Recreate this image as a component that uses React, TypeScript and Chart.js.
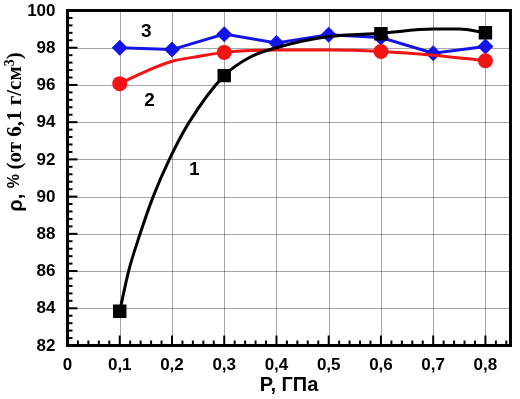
import React, { useEffect, useRef } from "react";
import { Chart, registerables } from "chart.js";

Chart.register(...registerables);

// Measured points
const pressure1 = [0.1, 0.3, 0.6, 0.8];
const density1 = [83.84, 96.5, 98.75, 98.8];
const pressure2 = [0.1, 0.3, 0.6, 0.8];
const density2 = [96.07, 97.75, 97.8, 97.3];
const pressure3 = [0.1, 0.2, 0.3, 0.4, 0.5, 0.6, 0.7, 0.8];
const density3 = [98.0, 97.9, 98.73, 98.25, 98.7, 98.55, 97.7, 98.07];

// Fitted curves
const fit1X = [0.1, 0.117, 0.139, 0.164, 0.195, 0.233, 0.3, 0.35, 0.4, 0.5, 0.6, 0.7, 0.75, 0.8];
const fit1Y = [83.84, 86.0, 88.0, 90.0, 92.0, 94.0, 96.5, 97.5, 98.0, 98.6, 98.78, 99.0, 99.0, 98.8];
const fit2X = [0.1, 0.15, 0.2, 0.25, 0.3, 0.4, 0.5, 0.6, 0.7, 0.8];
const fit2Y = [96.07, 96.73, 97.27, 97.53, 97.75, 97.88, 97.88, 97.8, 97.6, 97.3];

const xTickValues = [0, 0.1, 0.2, 0.3, 0.4, 0.5, 0.6, 0.7, 0.8];
const xTickLabels = ["0", "0,1", "0,2", "0,3", "0,4", "0,5", "0,6", "0,7", "0,8"];
const yTickValues = [82, 84, 86, 88, 90, 92, 94, 96, 98, 100];
const yTickLabels = ["82", "84", "86", "88", "90", "92", "94", "96", "98", "100"];

const curveLabels = ["1", "2", "3"];
const curveLabelX = [0.2426, 0.157, 0.151];
const curveLabelY = [91.46, 95.16, 98.86];

const xTitle = "P, ГПа";

const BLACK = "#000000";
const RED = "#f01414";
const BLUE = "#1414e6";
const SANS = "'Liberation Sans', Arial, sans-serif";
const SERIF = "'Liberation Serif', 'Times New Roman', serif";

const pts = (xs: number[], ys: number[]) => xs.map((x, i) => ({ x, y: ys[i] }));

const decorPlugin = {
  id: "decor",
  beforeDatasetsDraw(chart: any) {
    const { ctx, chartArea: a, scales } = chart;
    const xs = scales.x;
    const ys = scales.y;
    ctx.save();
    ctx.strokeStyle = "rgba(0,0,0,0.7)";
    ctx.lineWidth = 1;
    ctx.setLineDash([1, 1]);
    xTickValues.forEach((v) => {
      if (v === 0) return;
      const px = Math.round(xs.getPixelForValue(v)) + 0.5;
      ctx.beginPath();
      ctx.moveTo(px, a.top);
      ctx.lineTo(px, a.bottom);
      ctx.stroke();
    });
    yTickValues.forEach((v) => {
      if (v === 82 || v === 100) return;
      const py = Math.round(ys.getPixelForValue(v)) + 0.5;
      ctx.beginPath();
      ctx.moveTo(a.left, py);
      ctx.lineTo(a.right, py);
      ctx.stroke();
    });
    ctx.setLineDash([]);
    ctx.strokeStyle = BLACK;
    ctx.lineWidth = 2;
    for (let i = 0; i <= 42; i++) {
      const v = i * 0.02;
      if (v > xs.max) break;
      const px = xs.getPixelForValue(v);
      const len = i % 5 === 0 ? 10 : 5;
      ctx.beginPath();
      ctx.moveTo(px, a.bottom);
      ctx.lineTo(px, a.bottom - len);
      ctx.stroke();
    }
    for (let i = 0; i <= 45; i++) {
      const v = 82 + i * 0.4;
      const py = ys.getPixelForValue(v);
      const len = i % 5 === 0 ? 10 : 5;
      ctx.beginPath();
      ctx.moveTo(a.left, py);
      ctx.lineTo(a.left + len, py);
      ctx.stroke();
    }
    ctx.restore();
  },
  afterDraw(chart: any) {
    const { ctx, chartArea: a, scales } = chart;
    ctx.save();
    ctx.strokeStyle = BLACK;
    ctx.lineWidth = 3;
    ctx.strokeRect(a.left, a.top, a.right - a.left, a.bottom - a.top);
    ctx.fillStyle = BLACK;
    ctx.font = `bold 17px ${SANS}`;
    ctx.textBaseline = "middle";
    ctx.textAlign = "right";
    yTickValues.forEach((v, i) => {
      ctx.fillText(yTickLabels[i], a.left - 12, scales.y.getPixelForValue(v) + 0.5);
    });
    ctx.textAlign = "center";
    xTickValues.forEach((v, i) => {
      ctx.fillText(xTickLabels[i], scales.x.getPixelForValue(v), a.bottom + 20);
    });
    ctx.font = `bold 19px ${SANS}`;
    curveLabels.forEach((t, i) => {
      ctx.fillText(t, scales.x.getPixelForValue(curveLabelX[i]), scales.y.getPixelForValue(curveLabelY[i]));
    });
    ctx.font = `bold 20px ${SANS}`;
    ctx.fillText(xTitle, (a.left + a.right) / 2, 385);
    const parts = [
      { t: "ρ, ", f: `bold 20px ${SANS}`, dy: 0 },
      { t: "% ", f: `bold 16px ${SANS}`, dy: -1 },
      { t: "(от 6,1 г/см", f: `bold 21px ${SERIF}`, dy: 0 },
      { t: "3", f: `bold 14px ${SERIF}`, dy: -6 },
      { t: ")", f: `bold 21px ${SERIF}`, dy: 0 },
    ];
    let total = 0;
    const widths = parts.map((p) => {
      ctx.font = p.f;
      const w = ctx.measureText(p.t).width;
      total += w;
      return w;
    });
    ctx.translate(16, 132);
    ctx.rotate(-Math.PI / 2);
    ctx.textAlign = "left";
    ctx.textBaseline = "middle";
    let cx = -total / 2;
    parts.forEach((p, i) => {
      ctx.font = p.f;
      ctx.fillText(p.t, cx, p.dy);
      cx += widths[i];
    });
    ctx.restore();
  },
};

export default function App() {
  const ref = useRef<HTMLCanvasElement | null>(null);
  useEffect(() => {
    if (!ref.current) return;
    const chart = new Chart(ref.current, {
      type: "scatter",
      data: {
        datasets: [
          {
            data: pts(fit1X, fit1Y),
            showLine: true,
            borderColor: BLACK,
            borderWidth: 3,
            pointRadius: 0,
            cubicInterpolationMode: "monotone",
            order: 2,
          } as any,
          {
            data: pts(pressure1, density1),
            showLine: false,
            pointStyle: "rect",
            pointRadius: 9.5,
            backgroundColor: BLACK,
            borderColor: BLACK,
            borderWidth: 0,
            order: 1,
          },
          {
            data: pts(fit2X, fit2Y),
            showLine: true,
            borderColor: RED,
            borderWidth: 3,
            pointRadius: 0,
            cubicInterpolationMode: "monotone",
            order: 4,
          } as any,
          {
            data: pts(pressure2, density2),
            showLine: false,
            pointStyle: "circle",
            pointRadius: 7.5,
            backgroundColor: RED,
            borderColor: RED,
            borderWidth: 0,
            order: 3,
          },
          {
            data: pts(pressure3, density3),
            showLine: true,
            borderColor: BLUE,
            borderWidth: 3,
            tension: 0,
            pointStyle: "rectRot",
            pointRadius: 8,
            backgroundColor: BLUE,
            pointBorderWidth: 0,
            order: 5,
          } as any,
        ],
      },
      options: {
        animation: false,
        responsive: true,
        maintainAspectRatio: false,
        layout: { padding: { top: 10.5, right: 7, left: 0, bottom: 0 } },
        plugins: { legend: { display: false }, tooltip: { enabled: false } },
        scales: {
          x: {
            type: "linear",
            min: 0,
            max: 0.848,
            grid: { display: false, drawTicks: false },
            border: { display: false },
            ticks: { display: false },
            afterFit: (s: any) => {
              s.height = 53.5;
            },
          },
          y: {
            type: "linear",
            min: 82,
            max: 100,
            grid: { display: false, drawTicks: false },
            border: { display: false },
            ticks: { display: false },
            afterFit: (s: any) => {
              s.width = 67.5;
            },
          },
        },
      } as any,
      plugins: [decorPlugin],
    });
    return () => chart.destroy();
  }, []);
  return (
    <div style={{ position: "fixed", left: 0, top: 0, width: 520, height: 399, background: "#fff" }}>
      <canvas ref={ref} />
    </div>
  );
}
